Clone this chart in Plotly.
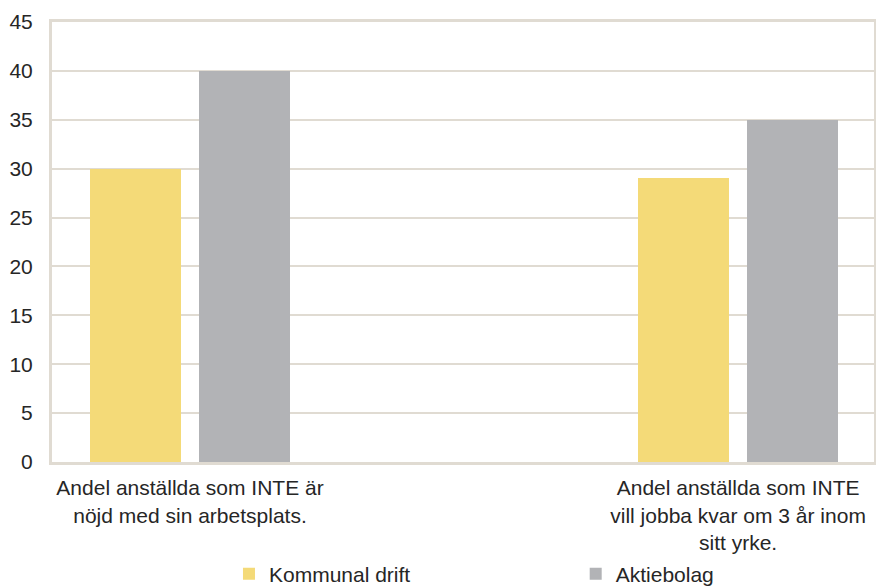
import plotly.graph_objects as go

# Survey categories and the share (%) answering for each form of operation
categories = [
    "Andel anställda som INTE är<br>nöjd med sin arbetsplats.",
    "Andel anställda som INTE<br>vill jobba kvar om 3 år inom<br>sitt yrke.",
]
kommunal_drift = [30, 29]
aktiebolag = [40, 35]
y_ticks = [0, 5, 10, 15, 20, 25, 30, 35, 40, 45]

FONT = "Liberation Sans, Arial, sans-serif"
TEXT = "#262626"
GRID = "#E0DBD2"
SIZE = 21

fig = go.Figure()
fig.add_trace(go.Bar(
    x=categories, y=kommunal_drift, name="Kommunal drift",
    marker=dict(color="#F4DA78", line=dict(width=0)),
    width=0.166, offset=-0.1825, legend="legend",
))
fig.add_trace(go.Bar(
    x=categories, y=aktiebolag, name="Aktiebolag",
    marker=dict(color="#B2B3B6", line=dict(width=0)),
    width=0.166, offset=0.0164, legend="legend2",
))

legend_common = dict(
    orientation="h", yanchor="middle", xanchor="left", y=-0.2545,
    font=dict(size=SIZE, color=TEXT), itemwidth=30,
    bgcolor="rgba(0,0,0,0)", borderwidth=0,
)

fig.update_layout(
    width=876, height=587,
    margin=dict(l=52, r=2, t=22, b=125, autoexpand=False),
    paper_bgcolor="white", plot_bgcolor="white",
    font=dict(family=FONT, size=SIZE, color=TEXT),
    showlegend=True,
    legend=dict(x=0.2153, **legend_common),
    legend2=dict(x=0.6371, **legend_common),
    bargap=0, bargroupgap=0,
)
fig.update_xaxes(
    type="category", range=[-0.2518, 1.248],
    showgrid=False, showline=True, linecolor=GRID, linewidth=3, mirror=True,
    ticks="", ticklabelstandoff=5,
    tickfont=dict(size=SIZE, color=TEXT),
)
fig.update_yaxes(
    range=[0, 45], tickvals=y_ticks,
    showgrid=True, gridcolor=GRID, gridwidth=2,
    showline=True, linecolor=GRID, linewidth=3, mirror=True,
    zeroline=False, ticks="", ticklabelstandoff=12,
    tickfont=dict(size=SIZE, color=TEXT),
)

fig.write_html("out.html")
